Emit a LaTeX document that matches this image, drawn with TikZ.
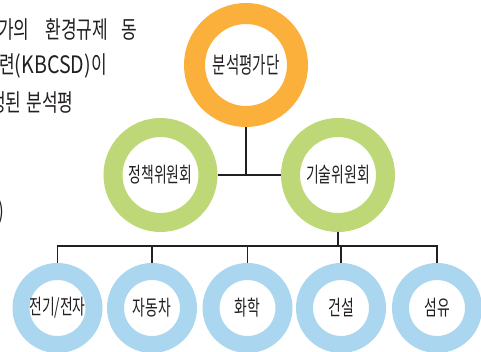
\documentclass[tikz,border=0pt]{standalone}
\usepackage{fontspec}
\setmainfont{Noto Sans CJK KR}
\newfontfamily\condfont[FakeStretch=0.66]{Noto Sans CJK KR}
\newfontfamily\topfont[FakeStretch=0.63]{Noto Sans CJK KR}
\newfontfamily\bodyfont[FakeStretch=0.71]{Noto Sans CJK KR}
\newfontfamily\latinfont[FakeStretch=0.82]{Noto Sans CJK KR}
\usetikzlibrary{backgrounds}
\definecolor{ringorange}{HTML}{FBB03B}
\definecolor{ringgreen}{HTML}{BED877}
\definecolor{ringblue}{HTML}{ABD6F0}
\definecolor{inkc}{HTML}{231F20}
\tikzset{
  ring/.style={circle, inner sep=0pt, text=inkc, font=\condfont\fontsize{21}{23}\selectfont},
  toporing/.style={ring, draw=ringorange, line width=21pt, minimum size=103pt, font=\topfont\fontsize{23}{25}\selectfont},
  midring/.style={ring, draw=ringgreen, line width=19pt, minimum size=95pt},
  lowring/.style={ring, draw=ringblue, line width=17pt, minimum size=73pt},
  link/.style={draw=inkc, line width=1.6pt},
  bodytext/.style={inner sep=0pt, text=inkc, font=\bodyfont\fontsize{24}{26}\selectfont}
}
\begin{document}
\begin{tikzpicture}[x=1pt, y=-1pt]
\useasboundingbox (0,0) rectangle (481,352);
\clip (0,0) rectangle (481,352);
% left body text (cut off by the page edge)
\node[bodytext, anchor=west] (t1) at (-2,29) {가의\hspace{16pt}환경규제\hspace{13pt}동};
\node[bodytext, anchor=west] (t2) at (-1,66) {련{\latinfont(KBCSD)}이};
\node[bodytext, anchor=west] (t3) at (-10,103) {정된\hspace{5pt}분석평};
\node[bodytext, anchor=east] (t4) at (4,212) {)};
% rings
\node[toporing] (top) at (246,65) {분석평가단};
\node[midring] (pol) at (160.5,175) {정책위원회};
\node[midring] (tech) at (338,175) {기술위원회};
\node[lowring] (b1) at (57.5,308) {전기/전자};
\node[lowring] (b2) at (152,308) {자동차};
\node[lowring] (b3) at (247.5,308) {화학};
\node[lowring] (b4) at (341,308) {건설};
\node[lowring] (b5) at (437,308) {섬유};
\coordinate (bus) at (0,246);
\begin{scope}[on background layer]
  \draw[link] (pol.east) -- (tech.west);
  \draw[link] (top.south) -- (top.south |- pol.east);
  \draw[link] (tech.south) -- (tech.south |- bus);
  \draw[link] (b1.north) -- (b1.north |- bus) -- (b5.north |- bus) -- (b5.north);
  \draw[link] (b2.north) -- (b2.north |- bus);
  \draw[link] (b3.north) -- (b3.north |- bus);
  \draw[link] (b4.north) -- (b4.north |- bus);
\end{scope}
\end{tikzpicture}
\end{document}
